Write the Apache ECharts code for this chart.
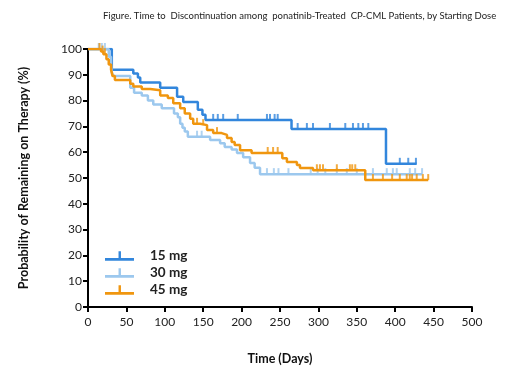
<!DOCTYPE html>
<html>
<head>
<meta charset="utf-8">
<script src="https://cdn.jsdelivr.net/npm/echarts@6/dist/echarts.min.js"></script>
<style>
  html, body { margin: 0; padding: 0; background: #fff; }
  #kmChart { width: 520px; height: 382px; }
</style>
</head>
<body>
<div id="kmChart"></div>
<script>
// step points: survival (%) becomes surv[i] at days[i]
var days15 = [0, 31, 59, 65, 68, 94, 116, 124, 143, 149, 153, 265, 388, 428];
var surv15 = [100, 92, 90.5, 89, 87, 85, 81.5, 79.5, 76.5, 74.5, 72.5, 69, 55.5, 55.5];
var censor15 = [163, 169, 176, 195, 233, 237, 243, 247, 273, 285, 293, 315, 335, 345, 352, 358, 365, 406, 417, 427];

var days30 = [0, 27, 30, 31, 33, 55, 60, 70, 78, 85, 96, 112, 117, 120, 123, 126, 130, 159, 172, 178, 187, 194, 202, 211, 217, 224, 435];
var surv30 = [100, 97, 94, 91, 89.5, 85, 83, 82, 80, 78.5, 77, 75, 73.5, 71, 69.5, 68, 66, 64.7, 63.5, 62, 61, 59.7, 58, 55.8, 54, 51.5, 51.5];
var censor30 = [14, 18, 22, 142, 148, 233, 242, 248, 261, 290, 299, 309, 324, 337, 350, 371, 389, 397, 402, 419, 426, 435];

var days45 = [0, 17, 20, 24, 27, 30, 32, 35, 55, 59, 70, 81, 94, 104, 111, 120, 126, 133, 137, 146, 155, 163, 174, 181, 187, 191, 198, 213, 253, 259, 272, 276, 293, 361, 443];
var surv45 = [100, 99, 98, 96, 94, 92, 89.5, 88, 86.5, 85.5, 84.5, 84, 82, 81, 79, 77, 75, 73, 71, 70.5, 68.6, 67.4, 66.7, 65.5, 64, 62.8, 60.8, 59.7, 57.7, 56.2, 55, 53.9, 53, 49.2, 49.2];
var censor45 = [15, 19, 22, 142, 150, 168, 234, 241, 247, 298, 302, 306, 324, 341, 344, 348, 371, 384, 396, 406, 415, 419, 422, 428, 436, 443];

var doseNames = ["15 mg", "30 mg", "45 mg"];
var colors = ["#3286dc", "#9cc8ee", "#f0960f"];

function pairs(d, s) {
  return d.map(function (t, i) { return [t, s[i]]; });
}
// value of the step curve at time t
function survAt(d, s, t) {
  var v = s[0];
  for (var i = 0; i < d.length; i++) {
    if (d[i] <= t) v = s[i];
  }
  return v;
}
function marks(d, s, c) {
  return c.map(function (t) { return [t, survAt(d, s, t)]; });
}

var curves = [
  { d: days15, s: surv15, c: censor15 },
  { d: days30, s: surv30, c: censor30 },
  { d: days45, s: surv45, c: censor45 }
];

var tickIcon = "path://M0,7 h30 v3 h-30 z M14,0 h2.5 v8 h-2.5 z";
var font = "Lato, 'Liberation Sans', sans-serif";

var series = [];
// draw 30 mg first, 45 mg next, 15 mg on top
[1, 2, 0].forEach(function (k) {
  var cv = curves[k];
  series.push({
    name: doseNames[k],
    type: "line",
    step: "end",
    data: pairs(cv.d, cv.s),
    showSymbol: false,
    lineStyle: { color: colors[k], width: 2.5 },
    itemStyle: { color: colors[k] },
    z: 2 + k
  });
  series.push({
    name: doseNames[k] + " censored",
    type: "scatter",
    data: marks(cv.d, cv.s, cv.c),
    symbol: "rect",
    symbolSize: [2, 6],
    symbolOffset: [0, -3],
    itemStyle: { color: colors[k] },
    z: 2 + k
  });
});

var chart = echarts.init(document.getElementById("kmChart"));
var option = {
  animation: false,
  title: {
    text: "Figure. Time to  Discontinuation among  ponatinib-Treated  CP-CML Patients, by Starting Dose",
    left: 98,
    top: 6,
    textStyle: { fontFamily: font, fontSize: 9.5, fontWeight: "normal", color: "#222" }
  },
  grid: { left: 88, right: 48, top: 49, bottom: 75 },
  legend: {
    data: doseNames.map(function (n) { return { name: n, icon: tickIcon }; }),
    orient: "vertical",
    left: 100,
    top: 244,
    itemWidth: 29,
    itemHeight: 10,
    itemGap: 3,
    textStyle: { fontFamily: font, fontSize: 13.5, fontWeight: "bold", color: "#222", padding: [0, 0, 0, 11] }
  },
  xAxis: {
    type: "value",
    min: 0,
    max: 500,
    interval: 50,
    name: "Time (Days)",
    nameLocation: "middle",
    nameGap: 45,
    nameTextStyle: { fontFamily: font, fontSize: 12.5, fontWeight: "bold", color: "#111" },
    axisLine: { lineStyle: { color: "#000", width: 2 } },
    axisTick: { show: true, length: 5, inside: false, lineStyle: { color: "#000", width: 2 } },
    axisLabel: { fontFamily: font, fontSize: 12, color: "#222", margin: 9 },
    splitLine: { show: false }
  },
  yAxis: {
    type: "value",
    min: 0,
    max: 100,
    interval: 10,
    name: "Probability of Remaining on Therapy (%)",
    nameLocation: "middle",
    nameGap: 58,
    nameTextStyle: { fontFamily: font, fontSize: 12.5, fontWeight: "bold", color: "#111" },
    axisLine: { show: true, lineStyle: { color: "#000", width: 2 } },
    axisTick: { show: true, length: 5, lineStyle: { color: "#000", width: 2 } },
    axisLabel: { fontFamily: font, fontSize: 12, color: "#222", margin: 6 },
    splitLine: { show: false }
  },
  series: series
};
chart.setOption(option);
</script>
</body>
</html>
